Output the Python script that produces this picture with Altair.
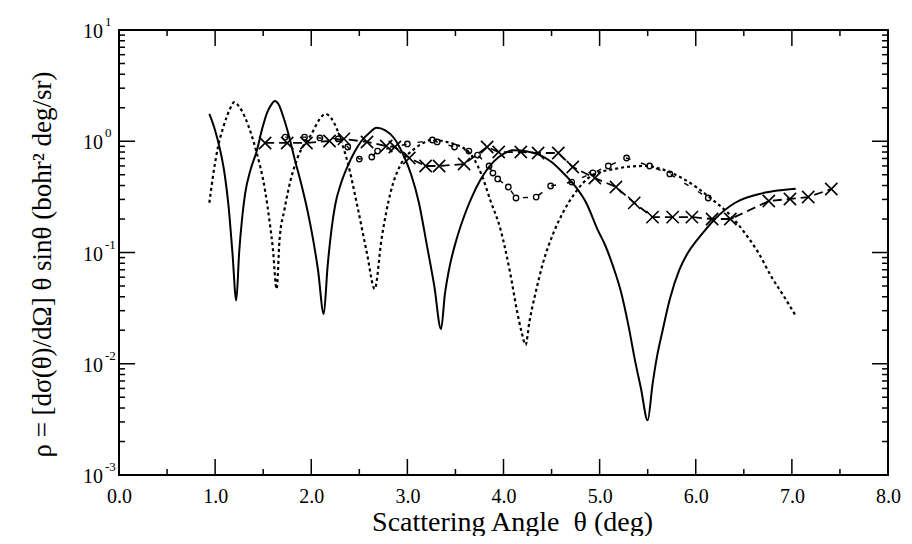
import altair as alt
import pandas as pd

# ---- data ----
solid_x = [0.94, 1.00, 1.05, 1.10, 1.14, 1.18, 1.22, 1.25, 1.28, 1.31, 1.37, 1.43, 1.49, 1.54, 1.58, 1.62,
           1.66, 1.71, 1.77, 1.83, 1.90, 1.96, 2.02, 2.07, 2.13, 2.17, 2.21, 2.25, 2.31, 2.38, 2.45, 2.52,
           2.60, 2.68, 2.77, 2.86, 2.95, 3.04, 3.12, 3.20, 3.28, 3.35, 3.39, 3.44, 3.51, 3.58, 3.66, 3.76,
           3.90, 4.00, 4.10, 4.25, 4.38, 4.50, 4.62, 4.74, 4.86, 4.98, 5.06, 5.14, 5.22, 5.30, 5.37, 5.43,
           5.50, 5.55, 5.60, 5.65, 5.73, 5.83, 5.92, 6.00, 6.10, 6.20, 6.41, 6.69, 6.85, 7.04]
solid_y = [1.76, 1.25, 0.85, 0.50, 0.26, 0.10, 0.037, 0.10, 0.20, 0.33, 0.56, 0.80, 1.3, 1.8, 2.1, 2.3,
           2.15, 1.65, 1.1, 0.68, 0.40, 0.24, 0.13, 0.07, 0.028, 0.075, 0.16, 0.27, 0.42, 0.60, 0.80, 1.0,
           1.18, 1.32, 1.25, 1.07, 0.78, 0.50, 0.28, 0.12, 0.05, 0.0205, 0.042, 0.075, 0.13, 0.20, 0.30, 0.45,
           0.66, 0.77, 0.83, 0.81, 0.75, 0.65, 0.52, 0.40, 0.28, 0.16, 0.115, 0.075, 0.045, 0.022, 0.0105, 0.0060,
           0.0031, 0.0065, 0.012, 0.019, 0.038, 0.07, 0.10, 0.125, 0.16, 0.20, 0.28, 0.34, 0.36, 0.375]

dotted_x = [0.94, 0.98, 1.03, 1.08, 1.12, 1.16, 1.20, 1.25, 1.31, 1.37, 1.43, 1.52, 1.57, 1.60, 1.64,
            1.67, 1.72, 1.76, 1.86, 1.93, 2.00, 2.08, 2.15, 2.21, 2.27, 2.33, 2.38, 2.48, 2.58, 2.66,
            2.73, 2.83, 2.94, 3.07, 3.17, 3.26, 3.40, 3.51, 3.60, 3.69, 3.78, 3.86, 3.97, 4.07, 4.14,
            4.19, 4.23, 4.27, 4.33, 4.41, 4.52, 4.62, 4.72, 4.93, 5.14, 5.30, 5.48, 5.65, 5.83, 6.00,
            6.17, 6.35, 6.51, 6.65, 6.79, 6.92, 7.04]
dotted_y = [0.28, 0.5, 0.89, 1.3, 1.65, 2.0, 2.25, 2.05, 1.65, 1.2, 0.80, 0.36, 0.18, 0.11, 0.047,
            0.13, 0.24, 0.36, 0.72, 0.95, 1.15, 1.55, 1.76, 1.6, 1.27, 0.90, 0.64, 0.26, 0.098, 0.047,
            0.13, 0.36, 0.64, 0.85, 0.97, 1.03, 0.99, 0.93, 0.85, 0.70, 0.48, 0.30, 0.16, 0.065, 0.030,
            0.019, 0.0148, 0.024, 0.042, 0.08, 0.15, 0.23, 0.32, 0.50, 0.56, 0.59, 0.60, 0.56, 0.48, 0.39,
            0.30, 0.22, 0.15, 0.10, 0.06, 0.04, 0.027]

cross_x = [1.52, 1.75, 1.95, 2.19, 2.34, 2.58, 2.78, 2.87, 3.02, 3.19, 3.33, 3.59, 3.83, 3.95, 4.18,
           4.36, 4.57, 4.72, 4.95, 5.17, 5.36, 5.55, 5.76, 5.96, 6.17, 6.36, 6.76, 6.98, 7.17, 7.41]
cross_y = [0.965, 0.965, 0.965, 1.005, 1.05, 0.985, 0.906, 0.888, 0.707, 0.599, 0.599, 0.624, 0.888, 0.80, 0.80,
           0.784, 0.784, 0.587, 0.467, 0.388, 0.279, 0.208, 0.208, 0.208, 0.200, 0.200, 0.290, 0.303, 0.315, 0.372]

circle_x = [1.73, 1.93, 2.09, 2.28, 2.38, 2.50, 2.63, 2.69, 3.00, 3.26, 3.31, 3.49, 3.64, 3.73, 3.85,
            3.89, 3.94, 4.05, 4.13, 4.34, 4.49, 4.71, 4.93, 5.09, 5.28, 5.52, 5.73, 6.13]
circle_y = [1.09, 1.09, 1.07, 1.05, 0.888, 0.692, 0.722, 0.817, 0.945, 1.026, 0.985, 0.888, 0.817, 0.752, 0.599,
            0.518, 0.458, 0.388, 0.309, 0.315, 0.396, 0.430, 0.519, 0.599, 0.707, 0.599, 0.508, 0.309]

x_major = [0, 1, 2, 3, 4, 5, 6, 7, 8]
x_minor = [0.5, 1.5, 2.5, 3.5, 4.5, 5.5, 6.5, 7.5]
y_major = [0.001, 0.01, 0.1, 1, 10]
y_exp = ["-3", "-2", "-1", "0", "1"]
y_minor = [k * 10.0 ** n for n in range(-3, 1) for k in range(2, 10)]

x_title = "Scattering Angle\u00a0 \u03b8 (deg)"
y_title = "\u03c1 = [d\u03c3(\u03b8)/d\u03a9] \u03b8 sin\u03b8 (bohr\u00b2 deg/sr)"

# ---- layout ----
W, H = 769, 445
FONT = "Liberation Serif"
MAJ, MIN = 16, 6

xs = alt.Scale(domain=[0, 8], nice=False, zero=False)
ys = alt.Scale(type="log", domain=[0.001, 10], nice=False)

X = alt.X("x:Q", scale=xs, axis=alt.Axis(
    values=x_major, format=".1f", ticks=False, domain=False, grid=False,
    labelFont=FONT, labelFontSize=20, labelColor="black", labelPadding=11,
    labelFlush=False, labelOverlap=False,
    title=x_title, titleFont=FONT, titleFontSize=28, titleFontWeight="normal",
    titleColor="black", titleX=393, titleY=55, titleBaseline="alphabetic", titleAlign="center"))
Y = alt.Y("y:Q", scale=ys, axis=alt.Axis(
    labels=False, ticks=False, domain=False, grid=False,
    title=y_title, titleFont=FONT, titleFontSize=27, titleFontWeight="normal",
    titleColor="black", titleAngle=270, titleX=-77, titleY=234,
    titleBaseline="middle", titleAlign="center"))


def df(x, y):
    return pd.DataFrame({"x": x, "y": y})


solid = alt.Chart(df(solid_x, solid_y)).mark_line(
    color="black", strokeWidth=2, interpolate="monotone").encode(x=X, y=Y)
dotted = alt.Chart(df(dotted_x, dotted_y)).mark_line(
    color="black", strokeWidth=2.2, strokeDash=[3, 3], interpolate="monotone").encode(x=X, y=Y)
cross_line = alt.Chart(df(cross_x, cross_y)).mark_line(
    color="black", strokeWidth=1.8, strokeDash=[9, 5]).encode(x=X, y=Y)
cross_pts = alt.Chart(df(cross_x, cross_y)).mark_point(
    shape="M-1,-1L1,1M-1,1L1,-1", filled=False, color="black", strokeWidth=1.6,
    size=150, opacity=1).encode(x=X, y=Y)
circ_line = alt.Chart(df(circle_x, circle_y)).mark_line(
    color="black", strokeWidth=1.4, strokeDash=[5, 11]).encode(x=X, y=Y)
circ_pts = alt.Chart(df(circle_x, circle_y)).mark_point(
    shape="circle", filled=False, color="black", strokeWidth=1.3, size=30, opacity=1).encode(x=X, y=Y)

xmaj = pd.DataFrame({"x": x_major})
xmin = pd.DataFrame({"x": x_minor})
ymaj = pd.DataFrame({"y": y_major, "e": y_exp, "t": ["10"] * len(y_major)})
ymin = pd.DataFrame({"y": y_minor})

rule = dict(color="black", strokeWidth=1.5)
ticks = [
    alt.Chart(xmaj).mark_rule(**rule).encode(x=X, y=alt.value(H), y2=alt.value(H - MAJ)),
    alt.Chart(xmaj).mark_rule(**rule).encode(x=X, y=alt.value(0), y2=alt.value(MAJ)),
    alt.Chart(xmin).mark_rule(**rule).encode(x=X, y=alt.value(H), y2=alt.value(H - MIN)),
    alt.Chart(xmin).mark_rule(**rule).encode(x=X, y=alt.value(0), y2=alt.value(MIN)),
    alt.Chart(ymaj).mark_rule(**rule).encode(y=Y, x=alt.value(0), x2=alt.value(MAJ)),
    alt.Chart(ymaj).mark_rule(**rule).encode(y=Y, x=alt.value(W), x2=alt.value(W - MAJ)),
    alt.Chart(ymin).mark_rule(**rule).encode(y=Y, x=alt.value(0), x2=alt.value(MIN)),
    alt.Chart(ymin).mark_rule(**rule).encode(y=Y, x=alt.value(W), x2=alt.value(W - MIN)),
]

ylab = alt.Chart(ymaj).mark_text(
    font=FONT, fontSize=20, align="right", baseline="middle", color="black", dy=2
).encode(y=Y, x=alt.value(-16), text="t:N")
yexp = alt.Chart(ymaj).mark_text(
    font=FONT, fontSize=13, align="left", baseline="middle", color="black", dy=-8
).encode(y=Y, x=alt.value(-14), text="e:N")

chart = alt.layer(
    *ticks, solid, dotted, cross_line, cross_pts, circ_line, circ_pts, ylab, yexp
).properties(
    width=W, height=H,
    autosize=alt.AutoSizeParams(type="none"),
    padding={"left": 111, "top": 22, "right": 16, "bottom": 61},
    background="white",
).configure_view(stroke="black", strokeWidth=2)

chart.save("out.html", embed_options={"renderer": "svg", "actions": False})
